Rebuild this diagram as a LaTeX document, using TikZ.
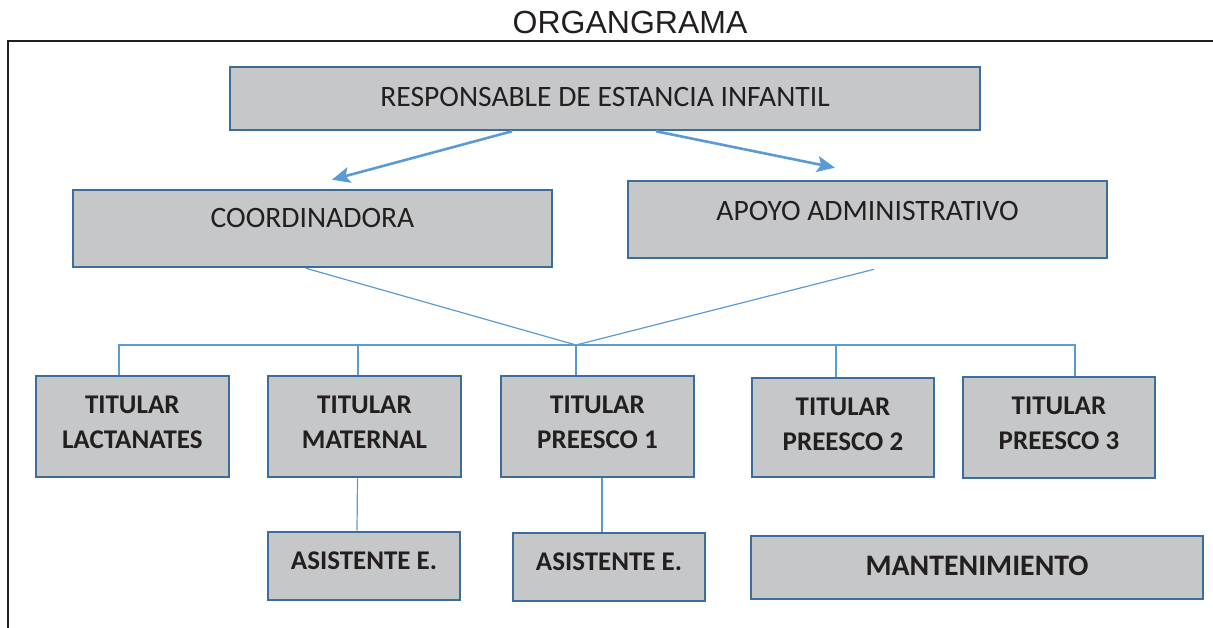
\documentclass[tikz,border=0pt]{standalone}
\usepackage{fontspec}
\setmainfont{Carlito}
\newfontfamily\titlefont{Liberation Sans}
\usetikzlibrary{arrows.meta}
\definecolor{boxgray}{HTML}{C6C7C9}
\definecolor{boxblue}{HTML}{3B6E9C}
\definecolor{linkblue}{HTML}{5B9BD5}
\definecolor{ink}{HTML}{231F20}
\begin{document}
\begin{tikzpicture}[x=1pt,y=-1pt,>={Stealth[length=18pt,width=16pt,inset=4pt]},
  box/.style={draw=boxblue,line width=2.6pt,fill=boxgray,text=ink,inner sep=0pt,
    font=\fontsize{29.6}{35}\selectfont,text height=19pt,text depth=0pt},
  tbox/.style={box,align=center,font=\bfseries\fontsize{27}{35}\selectfont,
    text height=52pt,minimum width=193pt,minimum height=101pt},
  abox/.style={box,font=\bfseries\fontsize{27}{35}\selectfont,
    text height=17pt,minimum width=192pt,minimum height=68pt,text depth=10pt},
  tree/.style={draw=linkblue,line width=1.2pt},
  arrowline/.style={draw=linkblue,line width=2.6pt}]
\useasboundingbox (0,0) rectangle (1213,628);
\node[font=\titlefont\fontsize{32}{38}\selectfont,text=ink] (title) at (630,22) {ORGANGRAMA};
\draw[ink,line width=2pt] (1213,41) -| (8,628);

\node[box,minimum width=750pt,minimum height=63pt,text depth=3pt] (resp) at (605,98.5) {RESPONSABLE DE ESTANCIA INFANTIL};
\node[box,minimum width=479pt,minimum height=77pt,text depth=20pt] (coord) at (312.5,228.5) {COORDINADORA};
\node[box,minimum width=479pt,minimum height=77pt,text depth=17pt] (apoyo) at (867.5,219.5) {APOYO ADMINISTRATIVO};

\node[tbox,text depth=8pt] (lact) at (132.3,426.5) {TITULAR\\LACTANATES};
\node[tbox,text depth=8pt] (mat) at (364.5,426.5) {TITULAR\\MATERNAL};
\node[tbox,text depth=8pt] (pre1) at (597.5,426.5) {TITULAR\\PREESCO 1};
\node[tbox,text depth=6pt,minimum width=182pt,minimum height=99pt] (pre2) at (843,427.5) {TITULAR\\PREESCO 2};
\node[tbox,text depth=8pt,minimum width=192pt] (pre3) at (1059,427.5) {TITULAR\\PREESCO 3};

\node[abox] (asis1) at (364,566) {ASISTENTE E.};
\node[abox] (asis2) at (609,567) {ASISTENTE E.};
\node[box,font=\bfseries\fontsize{29.8}{35}\selectfont,minimum width=452pt,minimum height=63pt,text depth=3pt] (mant) at (977,567.5) {MANTENIMIENTO};

\draw[arrowline,->] ([xshift=-93pt]resp.south) -- ([xshift=19.5pt,yshift=9pt]coord.north);
\draw[arrowline,->] ([xshift=51pt]resp.south) -- ([xshift=-32.5pt,yshift=12pt]apoyo.north);

\coordinate (bus) at (576,345);
\draw[tree] ([xshift=-6.5pt]coord.south) -- (bus);
\draw[tree] ([xshift=6.5pt,yshift=-10pt]apoyo.south) -- (bus);
\foreach \n/\dx in {lact/-13.3,mat/-6.5,pre1/-21.5,pre2/-7,pre3/16}
  \draw[tree] ([xshift=\dx pt]\n.north) |- (bus);

\draw[tree] ([xshift=-7pt]mat.south) -- ([xshift=-7pt]asis1.north);
\draw[tree] ([xshift=4.5pt]pre1.south) -- ([xshift=-7pt]asis2.north);
\end{tikzpicture}
\end{document}
